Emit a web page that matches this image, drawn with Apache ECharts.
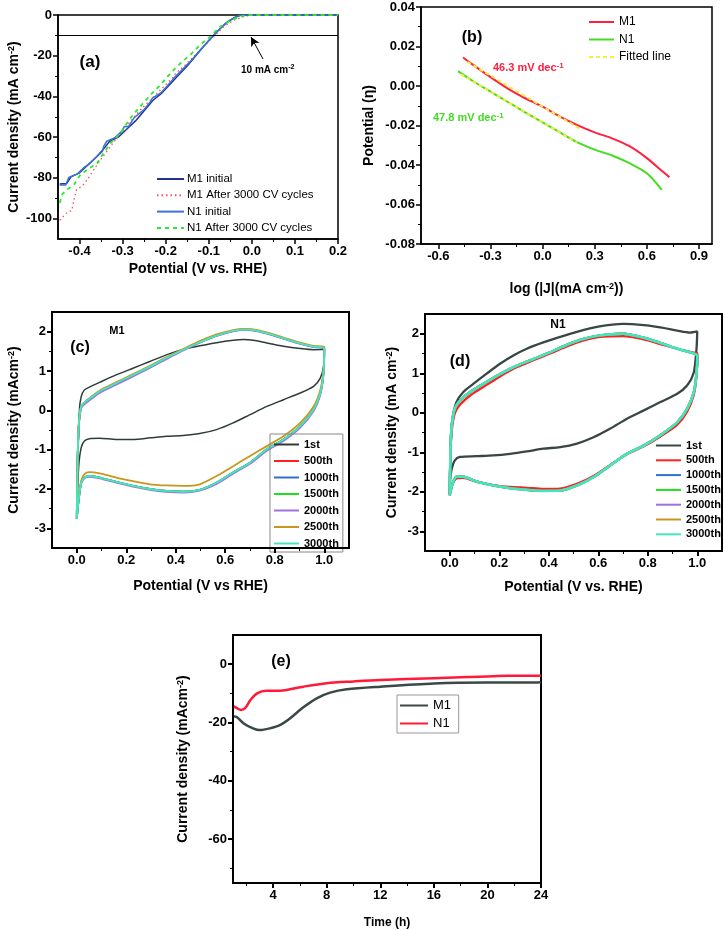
<!DOCTYPE html>
<html><head><meta charset="utf-8">
<script src="https://cdn.jsdelivr.net/npm/echarts@6/dist/echarts.min.js"></script>
<style>html,body{margin:0;padding:0;background:#fff}#c{width:724px;height:930px}</style>
</head><body><div id="c"></div>
<script>
// ---------- DATA ----------
// (a) LSV polarization curves [potential V vs RHE, current density mA cm-2]
const a_M1_initial = [[-0.446,-83],[-0.43,-82.8],[-0.42,-79.5],[-0.4,-77.5],[-0.38,-73.5],[-0.36,-69.5],[-0.345,-66],[-0.33,-62],[-0.31,-60],[-0.29,-56],[-0.27,-52],[-0.25,-47],[-0.23,-42],[-0.21,-38.5],[-0.19,-34],[-0.17,-29.5],[-0.15,-25],[-0.12,-17.5],[-0.1,-12.5],[-0.08,-8],[-0.06,-4],[-0.04,-1.2],[-0.025,0],[0.2,0]];
const a_M1_after = [[-0.446,-100.8],[-0.429,-97],[-0.418,-96],[-0.413,-90.7],[-0.407,-85.8],[-0.394,-84],[-0.382,-80.9],[-0.367,-76],[-0.351,-71],[-0.328,-64.5],[-0.305,-58],[-0.282,-52.3],[-0.259,-46.6],[-0.235,-41.7],[-0.212,-36.8],[-0.189,-31.9],[-0.181,-30.2],[-0.177,-28.6],[-0.158,-25.3],[-0.135,-20.4],[-0.112,-15.5],[-0.088,-10.6],[-0.065,-5.7],[-0.042,-2.5],[-0.019,-0.8],[0,0],[0.2,0]];
const a_N1_initial = [[-0.446,-83.5],[-0.432,-83.5],[-0.425,-79.8],[-0.405,-78],[-0.39,-75],[-0.375,-72.7],[-0.355,-68.6],[-0.347,-67],[-0.344,-64.5],[-0.337,-62],[-0.32,-60.5],[-0.301,-57],[-0.296,-54.7],[-0.286,-54.7],[-0.274,-50.6],[-0.251,-46.6],[-0.235,-42.5],[-0.231,-40.8],[-0.212,-38.4],[-0.197,-35],[-0.181,-31],[-0.166,-27.8],[-0.143,-22.9],[-0.12,-17.2],[-0.097,-11.9],[-0.073,-6.5],[-0.054,-2.9],[-0.035,-0.8],[-0.027,0],[0.2,0]];
const a_N1_after = [[-0.446,-92.3],[-0.44,-88],[-0.429,-85.8],[-0.413,-83.3],[-0.398,-78.4],[-0.382,-76],[-0.359,-72.7],[-0.344,-67.8],[-0.328,-62.9],[-0.305,-58],[-0.282,-50.6],[-0.259,-44.9],[-0.235,-39.2],[-0.212,-34.3],[-0.189,-28.6],[-0.166,-23.7],[-0.143,-19.6],[-0.12,-14.7],[-0.097,-10.6],[-0.073,-5.7],[-0.05,-2.8],[-0.027,-0.8],[-0.012,0],[0.2,0]];
const a_ref_line = -10;
const a_arrow = [[0.026,-21.6],[-0.002,-10.8]];

// (b) Tafel plots [log|J|, overpotential]
const b_M1 = [[-0.458,0.0144],[-0.4,0.0107],[-0.3,0.0045],[-0.2,-0.0013],[-0.1,-0.0062],[0,-0.0105],[0.1,-0.0155],[0.2,-0.0198],[0.3,-0.0235],[0.4,-0.0265],[0.5,-0.0305],[0.6,-0.0365],[0.68,-0.0425],[0.73,-0.0462]];
const b_N1 = [[-0.487,0.0075],[-0.4,0.0024],[-0.3,-0.0029],[-0.2,-0.0081],[-0.1,-0.0133],[0,-0.0184],[0.1,-0.0235],[0.2,-0.0285],[0.3,-0.0322],[0.4,-0.0352],[0.5,-0.0391],[0.6,-0.0442],[0.686,-0.0526]];
const b_fit_M1 = [[-0.433,0.0122],[0.227,-0.0223]];
const b_fit_N1 = [[-0.472,0.006],[0.198,-0.0287]];

// (c) CV cycles M1 [potential, current density]
const c_1st = [[0,-2.76],[0.004,-1.42],[0.011,0.02],[0.018,0.35],[0.031,0.52],[0.051,0.59],[0.092,0.71],[0.159,0.9],[0.227,1.07],[0.295,1.24],[0.362,1.41],[0.43,1.55],[0.497,1.64],[0.565,1.72],[0.632,1.78],[0.673,1.8],[0.714,1.78],[0.768,1.71],[0.835,1.63],[0.903,1.57],[0.957,1.54],[1.0,1.55],[0.997,1.11],[0.984,0.82],[0.957,0.61],[0.903,0.44],[0.835,0.27],[0.768,0.1],[0.7,-0.11],[0.632,-0.32],[0.565,-0.49],[0.497,-0.59],[0.43,-0.64],[0.362,-0.66],[0.295,-0.7],[0.227,-0.74],[0.159,-0.74],[0.092,-0.71],[0.051,-0.72],[0.031,-0.78],[0.018,-0.95],[0.008,-1.42],[0.001,-2.43],[0,-2.76]];
const c_cycles = [[0,-2.76],[0.003,-1.42],[0.008,-0.4],[0.018,0.1],[0.038,0.23],[0.065,0.36],[0.092,0.48],[0.159,0.69],[0.227,0.9],[0.295,1.11],[0.362,1.33],[0.43,1.54],[0.497,1.73],[0.565,1.9],[0.632,2.02],[0.673,2.05],[0.714,2.04],[0.768,1.96],[0.835,1.83],[0.903,1.7],[0.957,1.62],[1.0,1.57],[0.997,0.95],[0.984,0.44],[0.957,0.02],[0.903,-0.4],[0.835,-0.74],[0.768,-0.99],[0.7,-1.33],[0.632,-1.58],[0.565,-1.84],[0.497,-2.02],[0.43,-2.07],[0.362,-2.05],[0.295,-2.0],[0.227,-1.92],[0.159,-1.82],[0.092,-1.71],[0.051,-1.67],[0.031,-1.71],[0.018,-1.84],[0.008,-2.26],[0,-2.76]];
const c_2000 = [[0,-2.76],[0.003,-1.45],[0.008,-0.45],[0.018,0.05],[0.038,0.19],[0.065,0.32],[0.092,0.44],[0.159,0.65],[0.227,0.86],[0.295,1.08],[0.362,1.3],[0.43,1.52],[0.497,1.72],[0.565,1.89],[0.632,2.01],[0.673,2.04],[0.714,2.03],[0.768,1.95],[0.835,1.82],[0.903,1.69],[0.957,1.61],[1.0,1.56],[0.997,0.92],[0.984,0.4],[0.957,-0.02],[0.903,-0.44],[0.835,-0.78],[0.768,-1.03],[0.7,-1.36],[0.632,-1.61],[0.565,-1.87],[0.497,-2.04],[0.43,-2.09],[0.362,-2.07],[0.295,-2.02],[0.227,-1.94],[0.159,-1.84],[0.092,-1.73],[0.051,-1.69],[0.031,-1.73],[0.018,-1.86],[0.008,-2.28],[0,-2.76]];
const c_2500 = [[0,-2.76],[0.003,-1.42],[0.008,-0.4],[0.018,0.1],[0.038,0.24],[0.065,0.38],[0.092,0.5],[0.159,0.71],[0.227,0.92],[0.295,1.13],[0.362,1.35],[0.43,1.56],[0.497,1.76],[0.565,1.93],[0.632,2.04],[0.673,2.07],[0.714,2.06],[0.768,1.98],[0.835,1.85],[0.903,1.72],[0.957,1.64],[1.0,1.62],[0.997,1.03],[0.984,0.52],[0.957,0.1],[0.903,-0.32],[0.835,-0.66],[0.768,-0.91],[0.7,-1.16],[0.632,-1.42],[0.565,-1.67],[0.497,-1.88],[0.43,-1.92],[0.362,-1.91],[0.295,-1.88],[0.227,-1.8],[0.159,-1.71],[0.092,-1.6],[0.051,-1.57],[0.031,-1.62],[0.018,-1.78],[0.008,-2.2],[0,-2.76]];

// (d) CV cycles N1
const d_1st = [[0.001,-1.67],[0.004,-0.83],[0.011,-0.15],[0.027,0.27],[0.054,0.52],[0.095,0.73],[0.149,0.99],[0.203,1.24],[0.257,1.45],[0.311,1.62],[0.378,1.78],[0.446,1.92],[0.514,2.05],[0.6,2.18],[0.7,2.25],[0.784,2.22],[0.851,2.16],[0.919,2.08],[0.97,2.03],[1.0,2.06],[0.997,1.62],[0.986,1.02],[0.959,0.69],[0.919,0.48],[0.851,0.27],[0.784,0.06],[0.716,-0.15],[0.649,-0.4],[0.581,-0.62],[0.514,-0.78],[0.446,-0.87],[0.378,-0.91],[0.311,-0.98],[0.243,-1.04],[0.176,-1.08],[0.108,-1.1],[0.041,-1.12],[0.02,-1.21],[0.008,-1.42],[0.001,-1.67]];
const d_500 = [[0,-2.05],[0.003,-1.0],[0.008,-0.45],[0.02,-0.02],[0.041,0.2],[0.081,0.43],[0.135,0.65],[0.203,0.92],[0.27,1.15],[0.338,1.33],[0.405,1.5],[0.473,1.68],[0.541,1.83],[0.608,1.92],[0.7,1.94],[0.784,1.86],[0.851,1.74],[0.919,1.62],[0.986,1.52],[1.0,1.5],[0.997,0.95],[0.986,0.45],[0.959,0.03],[0.919,-0.3],[0.851,-0.6],[0.784,-0.85],[0.716,-1.05],[0.649,-1.32],[0.581,-1.6],[0.514,-1.8],[0.446,-1.92],[0.378,-1.93],[0.311,-1.9],[0.243,-1.88],[0.176,-1.83],[0.108,-1.75],[0.054,-1.65],[0.027,-1.66],[0.011,-1.82],[0,-2.05]];
const d_cycles = [[0,-2.09],[0.003,-0.91],[0.008,-0.32],[0.02,0.1],[0.041,0.31],[0.081,0.52],[0.135,0.73],[0.203,0.98],[0.27,1.19],[0.338,1.36],[0.405,1.53],[0.473,1.72],[0.541,1.87],[0.608,1.96],[0.7,2.0],[0.784,1.9],[0.851,1.77],[0.919,1.62],[0.986,1.5],[1.0,1.45],[0.997,1.0],[0.986,0.52],[0.959,0.1],[0.919,-0.24],[0.851,-0.57],[0.784,-0.83],[0.716,-1.04],[0.649,-1.33],[0.581,-1.63],[0.514,-1.84],[0.446,-1.97],[0.378,-1.98],[0.311,-1.95],[0.243,-1.91],[0.176,-1.84],[0.108,-1.74],[0.054,-1.62],[0.027,-1.62],[0.011,-1.8],[0,-2.09]];

// (e) chronoamperometry [time h, current density]
const e_M1 = [[1,-17.8],[1.3,-18.2],[1.8,-20.3],[2.5,-22],[3.0,-22.6],[3.75,-22],[4.5,-20.9],[5.25,-18.6],[6.25,-14.8],[7.25,-11.7],[8.25,-9.75],[9.5,-8.6],[12,-7.7],[16,-6.6],[20,-6.3],[23.5,-6.3],[24,-6.2]];
const e_N1 = [[1,-14.3],[1.3,-15.1],[1.6,-15.7],[1.9,-15.1],[2.3,-12.3],[2.8,-10],[3.5,-9.1],[4.5,-9.1],[5.25,-8.6],[6.25,-7.7],[8,-6.5],[10,-5.9],[12,-5.4],[16,-4.8],[20,-4.2],[21.5,-4.0],[24,-4.0]];

// tick labels
const a_xTicks = [-0.4,-0.3,-0.2,-0.1,0,0.1,0.2], a_xMinor = [-0.35,-0.25,-0.15,-0.05,0.05,0.15];
const a_yTicks = [0,-20,-40,-60,-80,-100], a_yMinor = [-10,-30,-50,-70,-90];
const b_xTicks = [-0.6,-0.3,0,0.3,0.6,0.9], b_xMinor = [-0.45,-0.15,0.15,0.45,0.75];
const b_yTicks = [0.04,0.02,0,-0.02,-0.04,-0.06,-0.08], b_yMinor = [0.03,0.01,-0.01,-0.03,-0.05,-0.07];
const cv_xTicks = [0,0.2,0.4,0.6,0.8,1.0], cv_xMinor = [0.1,0.3,0.5,0.7,0.9];
const cv_yTicks = [2,1,0,-1,-2,-3], cv_yMinor = [1.5,0.5,-0.5,-1.5,-2.5];
const e_xTicks = [4,8,12,16,20,24], e_xMinor = [2,6,10,14,18,22];
const e_yTicks = [0,-20,-40,-60], e_yMinor = [-10,-30,-50,-70];

// ---------- BUILD ----------
const FONT = '"Liberation Sans", Arial, sans-serif';
const supRich = {sup:{fontSize:9, fontWeight:'bold', fontFamily:FONT, color:'#000', verticalAlign:'top', lineHeight:4}};
const xAxes = [], yAxes = [];
function mkAxis(dim, g, c) {
  const pos = dim === 'x' ? 'bottom' : 'left';
  const lw = c.lw || 1.5;
  const main = {
    type:'value', gridIndex:g, min:c.min, max:c.max, position:pos,
    name:c.name, nameLocation:'middle', nameGap:c.gap, nameMoveOverlap:false,
    nameTextStyle:{color:'#000', fontWeight:'bold', fontSize:c.nameSize || 14, fontFamily:FONT, rich:supRich, lineHeight:15},
    axisLine:{show:true, onZero:false, lineStyle:{color:'#000', width:lw}},
    axisTick:{show:true, customValues:c.majors, length:5, lineStyle:{color:'#000', width:lw}},
    axisLabel:{show:true, customValues:c.majors, formatter:c.fmt, color:'#000', fontWeight:'bold', fontSize:c.fs || 13, fontFamily:FONT, margin:c.margin || 6},
    splitLine:{show:false}, z:5
  };
  const minor = {
    type:'value', gridIndex:g, min:c.min, max:c.max, position:pos,
    axisLine:{show:false, onZero:false}, axisLabel:{show:false}, splitLine:{show:false},
    axisTick:{show:true, customValues:c.minors, length:3, lineStyle:{color:'#000', width:1}}
  };
  const arr = dim === 'x' ? xAxes : yAxes;
  const idx = arr.length;
  arr.push(main, minor);
  return idx;
}
const f1 = v => (Math.abs(v) < 1e-9 ? 0 : v).toFixed(1);
const f2 = v => (Math.abs(v) < 1e-9 ? 0 : v).toFixed(2);
const f0 = v => String(Math.round(v));

const grids = [
  {left:58, top:15, width:280, height:224},
  {left:421, top:7, width:291, height:237},
  {left:52, top:312, width:297, height:236},
  {left:425, top:314, width:297, height:237},
  {left:233, top:635, width:308, height:248}
].map(g => Object.assign({show:true, borderColor:'#000', borderWidth:1.5, backgroundColor:'transparent', containLabel:false, outerBoundsMode:'none'}, g));
grids[2].borderWidth = 2; grids[3].borderWidth = 2; grids[4].borderWidth = 2;

const ax = {};
ax.ax = mkAxis('x', 0, {min:-0.45, max:0.2, majors:a_xTicks, minors:a_xMinor, fmt:f1, name:'Potential (V vs. RHE)', gap:23});
ax.ay = mkAxis('y', 0, {min:-110, max:0, majors:a_yTicks, minors:a_yMinor, fmt:f0, name:'Current density (mA cm{sup|-2})', gap:36});
ax.bx = mkAxis('x', 1, {min:-0.7, max:0.975, majors:b_xTicks, minors:b_xMinor, fmt:f1, name:'log (|J|(mA cm{sup|-2}))', gap:38});
ax.by = mkAxis('y', 1, {min:-0.08, max:0.04, majors:b_yTicks, minors:b_yMinor, fmt:f2, name:'Potential (η)', gap:44});
ax.cx = mkAxis('x', 2, {min:-0.1, max:1.1, majors:cv_xTicks, minors:cv_xMinor, fmt:f1, name:'Potential (V vs RHE)', gap:31, lw:2});
ax.cy = mkAxis('y', 2, {min:-3.5, max:2.5, majors:cv_yTicks, minors:cv_yMinor, fmt:f0, name:'Current density (mAcm{sup|-2})', gap:30, lw:2});
ax.dx = mkAxis('x', 3, {min:-0.1, max:1.1, majors:cv_xTicks, minors:cv_xMinor, fmt:f1, name:'Potential (V vs. RHE)', gap:29, lw:2});
ax.dy = mkAxis('y', 3, {min:-3.5, max:2.5, majors:cv_yTicks, minors:cv_yMinor, fmt:f0, name:'Current density (mA cm{sup|-2})', gap:25, lw:2});
ax.ex = mkAxis('x', 4, {min:1, max:24, majors:e_xTicks, minors:e_xMinor, fmt:f0, name:'Time (h)', gap:32, nameSize:12, lw:2});
ax.ey = mkAxis('y', 4, {min:-75, max:10, majors:e_yTicks, minors:e_yMinor, fmt:f0, name:'Current density (mAcm{sup|-2})', gap:42, lw:2});

function line(name, xi, yi, data, color, width, extra) {
  return Object.assign({
    type:'line', name, xAxisIndex:xi, yAxisIndex:yi, data, symbol:'none', showSymbol:false,
    lineStyle:{color, width}, itemStyle:{color}, animation:false, clip:true,
    emphasis:{disabled:true}
  }, extra || {});
}

const series = [
  line('M1 initial', ax.ax, ax.ay, a_M1_initial, '#24348c', 1.5, {
    markLine:{silent:true, animation:false, symbol:['none','none'], label:{show:false},
      lineStyle:{color:'#000', width:1, type:'solid'},
      data:[{yAxis:a_ref_line},
        [{coord:a_arrow[0], symbol:'none'}, {coord:a_arrow[1], symbol:'arrow', symbolSize:[7,9]}]]}
  }),
  line('M1 After 3000 CV cycles', ax.ax, ax.ay, a_M1_after, '#ff4d5e', 1.3, {lineStyle:{color:'#ff4d5e', width:1.3, type:[1.5,3]}}),
  line('N1 initial', ax.ax, ax.ay, a_N1_initial, '#3a72d6', 1.5),
  line('N1 After 3000 CV cycles', ax.ax, ax.ay, a_N1_after, '#2ee82e', 1.8, {lineStyle:{color:'#2ee82e', width:1.8, type:[4,4]}}),

  line('M1', ax.bx, ax.by, b_M1, '#ff2040', 2, {smooth:0.3}),
  line('N1', ax.bx, ax.by, b_N1, '#44dd22', 2, {smooth:0.3}),
  line('Fitted line', ax.bx, ax.by, b_fit_M1, '#f5ee3c', 2, {lineStyle:{color:'#f5ee3c', width:2, type:[4,3]}}),
  line('Fitted line', ax.bx, ax.by, b_fit_N1, '#f5ee3c', 2, {lineStyle:{color:'#f5ee3c', width:2, type:[4,3]}}),

  line('1st', ax.cx, ax.cy, c_1st, '#2e3b3b', 1.5, {smooth:0.25}),
  line('500th', ax.cx, ax.cy, c_cycles, '#ff2020', 1.8, {smooth:0.25}),
  line('1000th', ax.cx, ax.cy, c_cycles, '#2f6fd0', 1.8, {smooth:0.25}),
  line('1500th', ax.cx, ax.cy, c_cycles, '#22dd22', 1.8, {smooth:0.25}),
  line('2000th', ax.cx, ax.cy, c_2000, '#a070e0', 1.8, {smooth:0.25}),
  line('2500th', ax.cx, ax.cy, c_2500, '#c8961e', 1.8, {smooth:0.25}),
  line('3000th', ax.cx, ax.cy, c_cycles, '#40e8c0', 1.8, {smooth:0.25}),

  line('1st ', ax.dx, ax.dy, d_1st, '#394646', 2.3, {smooth:0.25}),
  line('500th ', ax.dx, ax.dy, d_500, '#ff2020', 2.3, {smooth:0.25}),
  line('1000th ', ax.dx, ax.dy, d_cycles, '#2f6fd0', 2.3, {smooth:0.25}),
  line('1500th ', ax.dx, ax.dy, d_cycles, '#22dd22', 2.3, {smooth:0.25}),
  line('2000th ', ax.dx, ax.dy, d_cycles, '#a070e0', 2.3, {smooth:0.25}),
  line('2500th ', ax.dx, ax.dy, d_cycles, '#c8961e', 2.3, {smooth:0.25}),
  line('3000th ', ax.dx, ax.dy, d_cycles, '#40e8c0', 2.5, {smooth:0.25}),

  line('M1 ', ax.ex, ax.ey, e_M1, '#3a4848', 2.5, {smooth:0.3}),
  line('N1 ', ax.ex, ax.ey, e_N1, '#ff1a3a', 2.5, {smooth:0.3})
];

const legBase = {orient:'vertical', itemWidth:26, itemHeight:10, selectedMode:false, backgroundColor:'transparent',
  itemStyle:{opacity:0, borderWidth:0}};
const legends = [
  Object.assign({}, legBase, {left:156, top:173, itemGap:4.3, padding:0, itemWidth:27,
    data:['M1 initial','M1 After 3000 CV cycles','N1 initial','N1 After 3000 CV cycles'],
    textStyle:{color:'#000', fontSize:11.5, fontFamily:FONT, padding:[0,0,0,-2]}}),
  Object.assign({}, legBase, {left:588, top:16, itemGap:5.5, padding:0, itemWidth:25,
    data:['M1','N1','Fitted line'], textStyle:{color:'#000', fontSize:12, fontFamily:FONT}}),
  Object.assign({}, legBase, {left:270, top:434, itemGap:5.5, padding:[5,4,3,3], itemWidth:25,
    borderColor:'#888', borderWidth:1,
    data:['1st','500th','1000th','1500th','2000th','2500th','3000th'],
    textStyle:{color:'#000', fontSize:11, fontWeight:'bold', fontFamily:FONT}}),
  Object.assign({}, legBase, {left:655, top:440, itemGap:3.8, padding:0, itemWidth:25,
    data:['1st ','500th ','1000th ','1500th ','2000th ','2500th ','3000th '],
    textStyle:{color:'#000', fontSize:11, fontWeight:'bold', fontFamily:FONT}}),
  Object.assign({}, legBase, {left:397, top:695, itemGap:5, padding:[4,4,3,2], itemWidth:28,
    borderColor:'#999', borderWidth:1,
    data:['M1 ','N1 '], textStyle:{color:'#000', fontSize:13, fontFamily:FONT}})
];

function txt(x, y, text, size, color, weight, align, rich) {
  return {type:'text', x, y, z:100, silent:true,
    style:{text, fill:color || '#000', fontSize:size, fontWeight:weight || 'bold', fontFamily:FONT,
      align:align || 'center', verticalAlign:'middle', rich, lineHeight:size + 2}};
}
const supG = (s, col) => ({sup:{fontSize:s, fontWeight:'bold', fontFamily:FONT, fill:col, verticalAlign:'top', lineHeight:3}});
const graphics = [
  txt(90, 62, '(a)', 17),
  txt(241, 70, '10 mA cm{sup|-2}', 10, '#000', 'bold', 'left', supG(7, '#000')),
  txt(472, 38, '(b)', 16),
  txt(493, 68, '46.3 mV dec{sup|-1}', 11, '#ff2040', 'bold', 'left', supG(8, '#ff2040')),
  txt(433, 118, '47.8 mV dec{sup|-1}', 11, '#44dd22', 'bold', 'left', supG(8, '#44dd22')),
  txt(80, 348, '(c)', 16),
  txt(117, 331, 'M1', 11),
  txt(460, 362, '(d)', 16),
  txt(558, 325, 'N1', 12),
  txt(281, 662, '(e)', 16)
];

const chart = echarts.init(document.getElementById('c'), null, {renderer:'canvas', width:724, height:930});
chart.setOption({
  backgroundColor:'#fff', animation:false,
  textStyle:{fontFamily:FONT},
  grid:grids, xAxis:xAxes, yAxis:yAxes, series, legend:legends, graphic:graphics
});
</script></body></html>
